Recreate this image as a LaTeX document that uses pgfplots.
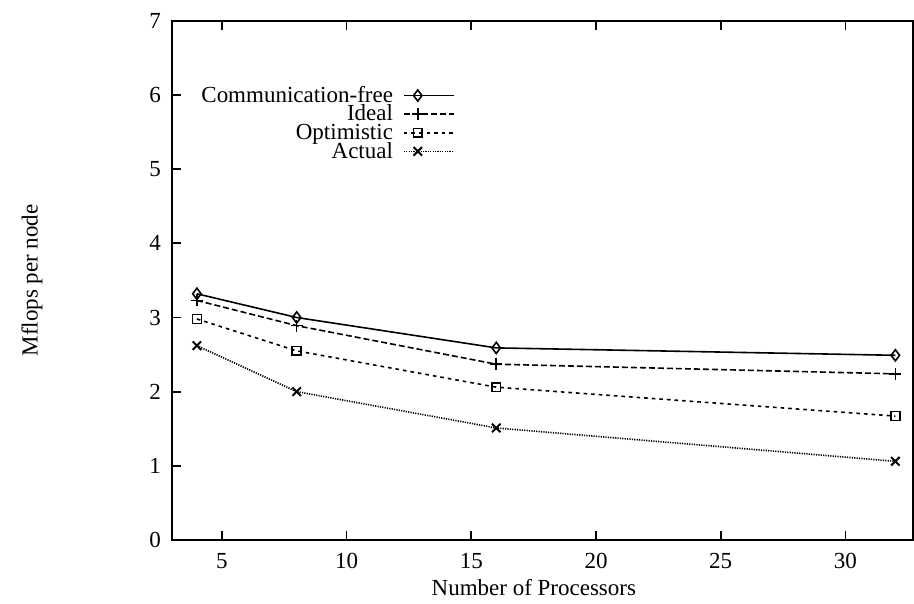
\documentclass[border=0pt]{standalone}
\usepackage{fontspec}
\setmainfont{Liberation Serif}
\usepackage{pgfplots}
\pgfplotsset{compat=1.18}
\begin{document}
\begin{tikzpicture}
\begin{axis}[
  scale only axis,
  width=370.5pt, height=259.5pt,
  xmin=3, xmax=32.7, ymin=0, ymax=7,
  xtick={5,10,15,20,25,30},
  ytick={0,1,2,3,4,5,6,7},
  tick align=inside,
  major tick length=4.5pt,
  xtick pos=both, ytick pos=left,
  axis line style={line width=1.2pt},
  every tick/.style={black, line width=0.9pt},
  font=\fontsize{11.5}{13}\selectfont,
  /pgf/number format/assume math mode=true,
  xticklabel style={yshift=-3pt},
  yticklabel style={xshift=-2pt},
  xlabel={Number of Processors},
  ylabel={Mflops per node},
  xlabel style={at={(rel axis cs:0.4885,0)}, anchor=center, yshift=-24pt},
  ylabel style={at={(rel axis cs:0,0.5)}, anchor=center, yshift=70pt},
  legend plot pos=right,
  legend cell align=right,
  legend style={draw=none, fill=none, at={(0.382,0.875)}, anchor=north east,
    inner sep=0pt, column sep=4pt, font=\fontsize{11.5}{13}\selectfont,
    nodes={inner sep=1pt, text height=7pt, text depth=0.3pt}},
  legend image code/.code={\draw[mark repeat=2, mark phase=2, #1] plot coordinates {(0pt,0pt) (7pt,0pt) (25pt,0pt)};},
]
\addplot[black, line width=0.8pt, mark=diamond, mark size=2.8pt, mark options={solid, fill=white, line width=0.8pt}]
  coordinates {(4,3.32) (8,3.00) (16,2.59) (32,2.49)};
\addlegendentry{Communication-free}
\addplot[black, line width=0.8pt, dash pattern=on 3pt off 1.5pt, mark=+, mark size=3pt, mark options={solid, line width=0.8pt}]
  coordinates {(4,3.23) (8,2.89) (16,2.37) (32,2.24)};
\addlegendentry{Ideal}
\addplot[black, line width=0.8pt, dash pattern=on 1.8pt off 2pt, mark=square, mark size=2.2pt, mark options={solid, fill=white, line width=0.8pt}]
  coordinates {(4,2.98) (8,2.55) (16,2.06) (32,1.67)};
\addlegendentry{Optimistic}
\addplot[black, line width=0.8pt, dash pattern=on 0.6pt off 0.6pt, mark=x, mark size=3pt, mark options={solid, line width=1pt}]
  coordinates {(4,2.62) (8,2.00) (16,1.51) (32,1.06)};
\addlegendentry{Actual}
\coordinate (bl) at (rel axis cs:0,0);
\coordinate (tr) at (rel axis cs:1,1);
\end{axis}
\path ([shift={(-86pt,-32pt)}]bl) rectangle ([shift={(0.5pt,10.5pt)}]tr);
\end{tikzpicture}
\end{document}
